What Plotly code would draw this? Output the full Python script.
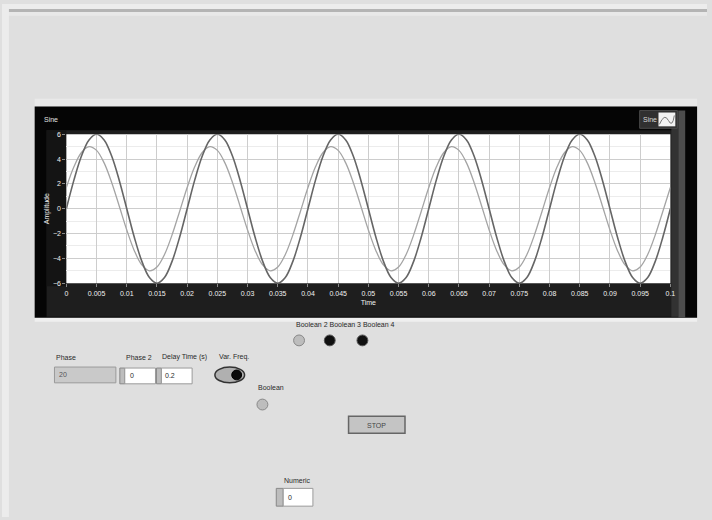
import plotly.graph_objects as go

W, H = 712, 520

# ---- data ----
time_s = [round(i * 0.00125, 5) for i in range(81)]
sine_main = [
    0, 2.3, 4.24, 5.54, 6, 5.54, 4.24, 2.3, 0, -2.3, -4.24, -5.54, -6, -5.54, -4.24, -2.3,
    0, 2.3, 4.24, 5.54, 6, 5.54, 4.24, 2.3, 0, -2.3, -4.24, -5.54, -6, -5.54, -4.24, -2.3,
    0, 2.3, 4.24, 5.54, 6, 5.54, 4.24, 2.3, 0, -2.3, -4.24, -5.54, -6, -5.54, -4.24, -2.3,
    0, 2.3, 4.24, 5.54, 6, 5.54, 4.24, 2.3, 0, -2.3, -4.24, -5.54, -6, -5.54, -4.24, -2.3,
    0, 2.3, 4.24, 5.54, 6, 5.54, 4.24, 2.3, 0, -2.3, -4.24, -5.54, -6, -5.54, -4.24, -2.3,
    0,
]
sine_shifted = [
    1.71, 3.38, 4.53, 5.0, 4.7, 3.69, 2.11, 0.22, -1.71, -3.38, -4.53, -5.0, -4.7, -3.69, -2.11, -0.22,
    1.71, 3.38, 4.53, 5.0, 4.7, 3.69, 2.11, 0.22, -1.71, -3.38, -4.53, -5.0, -4.7, -3.69, -2.11, -0.22,
    1.71, 3.38, 4.53, 5.0, 4.7, 3.69, 2.11, 0.22, -1.71, -3.38, -4.53, -5.0, -4.7, -3.69, -2.11, -0.22,
    1.71, 3.38, 4.53, 5.0, 4.7, 3.69, 2.11, 0.22, -1.71, -3.38, -4.53, -5.0, -4.7, -3.69, -2.11, -0.22,
    1.71, 3.38, 4.53, 5.0, 4.7, 3.69, 2.11, 0.22, -1.71, -3.38, -4.53, -5.0, -4.7, -3.69, -2.11, -0.22,
    1.71,
]
x_ticks = [0, 0.005, 0.01, 0.015, 0.02, 0.025, 0.03, 0.035, 0.04, 0.045, 0.05,
           0.055, 0.06, 0.065, 0.07, 0.075, 0.08, 0.085, 0.09, 0.095, 0.1]
x_ticktext = ["0", "0.005", "0.01", "0.015", "0.02", "0.025", "0.03", "0.035", "0.04", "0.045", "0.05",
              "0.055", "0.06", "0.065", "0.07", "0.075", "0.08", "0.085", "0.09", "0.095", "0.1"]
y_ticks = [-6, -4, -2, 0, 2, 4, 6]


def px(x):
    return x / W


def py(y):
    return 1 - y / H


fig = go.Figure()
fig.add_trace(go.Scatter(x=time_s, y=sine_shifted, mode="lines", line_shape="spline",
                         line=dict(color="#a4a4a4", width=1.3), showlegend=False, hoverinfo="skip"))
fig.add_trace(go.Scatter(x=time_s, y=sine_main, mode="lines", line_shape="spline",
                         line=dict(color="#666666", width=1.6), showlegend=False, hoverinfo="skip"))

shapes = []


def rect(x0, y0, x1, y1, fill, line="rgba(0,0,0,0)", lw=0, layer="below"):
    shapes.append(dict(type="rect", xref="paper", yref="paper",
                       x0=px(x0), x1=px(x1), y0=py(y1), y1=py(y0),
                       fillcolor=fill, line=dict(color=line, width=lw), layer=layer))


def circ(cx, cy, r, fill, line="#777", lw=1, ry=None):
    ry = r if ry is None else ry
    shapes.append(dict(type="circle", xref="paper", yref="paper",
                       x0=px(cx - r), x1=px(cx + r), y0=py(cy + ry), y1=py(cy - ry),
                       fillcolor=fill, line=dict(color=line, width=lw), layer="above"))


# window top strip
rect(0, 0, W, 5, "#ececec")
rect(0, 5, W, 8, "#b4b4b4")
rect(0, 8, W, 12, "#e8e8e8")
rect(0, 0, 7, H, "#ececec")

# chart frame
rect(33, 96, 702, 104, "#e9e9e9")
rect(33, 318, 702, 322, "#efefef")
rect(33, 104, 702, 318, "#050505")
rect(45, 128, 683, 317, "#1e1e1e")
rect(45, 128, 65, 286, "#141414")
rect(676, 108, 683, 317, "#323232")
rect(683, 108, 690, 318, "#4c4c4c")
rect(65, 132, 675, 283, "#ffffff")
# legend box
rect(644, 108, 682, 126, "#303030", "#4a4a4a", 1, layer="above")
rect(663, 110, 680, 124, "#f2f2f2", layer="above")
shapes.append(dict(type="path", xref="paper", yref="paper",
                   path=f"M {px(664)},{py(122)} Q {px(669)},{py(110)} {px(673)},{py(118)} T {px(679)},{py(113)}",
                   line=dict(color="#777", width=1), layer="above"))

# controls
rect(53, 368, 115, 384, "#c9c9c9", "#9a9a9a", 1)
rect(119, 369, 124, 385, "#bdbdbd", "#888", 1)
rect(124, 369, 155, 385, "#ffffff", "#9a9a9a", 1)
rect(156, 369, 161, 385, "#bdbdbd", "#888", 1)
rect(161, 369, 192, 385, "#ffffff", "#9a9a9a", 1)
circ(230, 376, 15, "#b0b0b0", "#333", 1.5, ry=8)
circ(237, 376, 5, "#0a0a0a", "#000", 1)
circ(300, 341, 5.5, "#bdbdbd", "#888")
circ(331, 341, 5.5, "#101010", "#555")
circ(364, 341, 5.5, "#101010", "#555")
circ(263, 406, 5.5, "#bdbdbd", "#888")
rect(350, 418, 407, 435, "#c4c4c4", "#666", 1.5)
rect(277, 491, 284, 509, "#bdbdbd", "#888", 1)
rect(284, 491, 314, 509, "#ffffff", "#9a9a9a", 1)

annotations = []


def text(x, y, s, size=7, color="#2a2a2a", anchor="left"):
    annotations.append(dict(x=px(x), y=py(y), xref="paper", yref="paper", text=s,
                            showarrow=False, xanchor=anchor, yanchor="middle",
                            font=dict(size=size, color=color, family="Arial")))


text(40, 117, "Sine", 7, "#e0e0e0")
text(645, 117, "Sine", 7, "#d8d8d8")
text(295, 325, "Boolean 2 Boolean 3 Boolean 4", 7)
text(53, 358, "Phase", 7)
text(123, 358, "Phase 2", 7)
text(160, 358, "Delay Time (s)", 7)
text(217, 358, "Var. Freq.", 7)
text(257, 389, "Boolean", 7)
text(56, 376, "20", 7, "#555")
text(127, 377, "0", 7)
text(163, 377, "0.2", 7)
text(378, 427, "STOP", 7, "#444", anchor="center")
text(283, 483, "Numeric", 7)
text(287, 500, "0", 7)

fig.update_layout(
    autosize=True, margin=dict(l=0, r=0, t=0, b=0, pad=0),
    paper_bgcolor="#dfdfdf", plot_bgcolor="#ffffff",
    shapes=shapes, annotations=annotations,
    xaxis=dict(domain=[px(65), px(675)], range=[0, 0.1], tickvals=x_ticks, ticktext=x_ticktext,
               showgrid=True, gridcolor="#cdcdcd", gridwidth=1, zeroline=False,
               minor=dict(showgrid=True, gridcolor="#ececec", nticks=5),
               tickfont=dict(size=7, color="#f0f0f0", family="Arial"), ticks="outside",
               tickcolor="#888", ticklen=3,
               title=dict(text="Time", font=dict(size=7, color="#f0f0f0", family="Arial"), standoff=4),
               showline=False, fixedrange=True),
    yaxis=dict(domain=[py(283), py(132)], range=[-6, 6], tickvals=y_ticks,
               showgrid=True, gridcolor="#cdcdcd", gridwidth=1, zeroline=False,
               minor=dict(showgrid=True, gridcolor="#ececec", nticks=4),
               tickfont=dict(size=7, color="#f0f0f0", family="Arial"), ticks="outside",
               tickcolor="#888", ticklen=3,
               title=dict(text="Amplitude", font=dict(size=7, color="#f0f0f0", family="Arial"), standoff=2),
               showline=False, fixedrange=True),
)

fig.write_html("out.html", config={"displayModeBar": False, "responsive": True},
               default_width="100vw", default_height="100vh",
               post_script="document.body.style.margin='0';document.body.style.overflow='hidden';"
                           "document.documentElement.style.overflow='hidden';"
                           "Plotly.Plots.resize(document.getElementById('{plot_id}'));")
